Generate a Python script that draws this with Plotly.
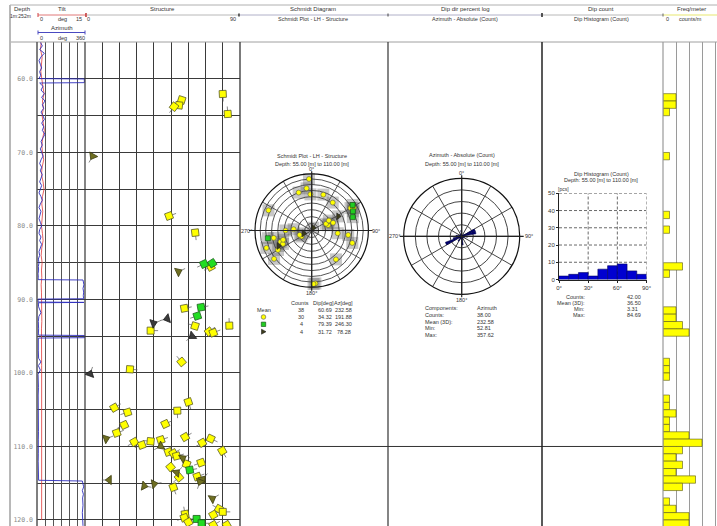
import numpy as np
import plotly.graph_objects as go

W, H = 717, 526
SANS = "Liberation Sans"
MONO = "DejaVu Sans Mono"

# ---------------- log data ----------------
depth_top, depth_bottom = 54.97, 120.82      # depth interval of the tracks [m]
stat_top, stat_bottom = 55.0, 110.0          # statistics window [m]

tilt_depth = [55, 56, 57, 58, 59, 60, 61, 62, 63, 64, 65, 66, 67, 68, 69, 70, 71, 72, 73, 74,
              75, 76, 77, 78, 79, 80, 81, 82, 83, 84, 85, 86, 87, 88, 89, 90, 91, 92, 93, 94,
              95, 96, 97, 98, 99, 100, 101, 102, 103, 104, 105, 106, 107, 108, 109, 110, 111,
              112, 113, 114, 115, 116, 117, 118, 119, 120]
tilt_deg = [1.3, 1.1, 1.6, 1.4, 1.2,
            1.5, 1.8, 2.2, 1.7, 2.0, 1.6, 1.9, 2.3, 1.8, 1.5,
            1.7, 2.1, 1.6, 1.4, 1.9, 2.2, 1.7, 1.5, 1.8, 1.6,
            1.4, 1.7, 1.9, 1.5, 1.3, 1.6, 1.4, 1.5, 1.3, 1.4,
            1.45, 1.4, 1.45, 1.5, 1.4, 1.45, 1.45, 1.5, 1.4, 1.45,
            1.45, 1.45, 1.4, 1.45, 1.45, 1.5, 1.45, 1.45, 1.4, 1.45,
            1.45, 1.45, 1.45, 1.5, 1.45, 1.45, 1.45, 1.4, 1.45, 1.45, 1.45]

azi_depth = [55.0, 55.5, 56.0, 56.5, 57.0, 57.5, 58.0, 58.5, 59.0, 59.5,
             59.95, 60.0, 60.5, 60.55,
             61.0, 61.5, 62.0, 62.5, 63.0, 63.5, 64.0, 64.5, 65.0, 65.5, 66.0, 66.5, 67.0, 67.5,
             68.0, 68.5, 69.0, 69.5, 70.0, 70.5, 71.0, 71.5, 72.0, 72.5, 73.0, 73.5, 74.0, 74.5,
             75.0, 75.5, 76.0, 76.5, 77.0, 77.5, 78.0, 78.5, 79.0, 79.5, 80.0, 80.5, 81.0, 81.5,
             82.0, 82.5, 83.0, 83.5, 84.0, 84.5, 85.0, 85.5, 86.0, 86.5, 87.0,
             87.3, 87.35,
             88.0, 88.5, 89.0, 89.5, 89.9, 89.95,
             90.35, 90.4, 90.45,
             91.0, 91.8, 92.3, 93.0, 94.0,
             94.85, 94.9, 95.2, 95.25,
             96.0, 97.0, 98.0, 98.5, 99.0, 99.6, 100.2,
             101.0, 102.0, 103.0, 104.0, 105.0, 106.0, 107.0, 108.0, 109.0, 110.0, 111.0, 112.0,
             113.0, 114.0,
             114.6, 114.7,
             115.0, 115.5, 116.0, 116.5, 117.0,
             118.0, 119.0, 120.0, 120.8]
azi_deg = [25, 40, 20, 55, 30, 15, 25, 35, 20, 28,
           15, 355, 355, 20,
           45, 30, 55, 35, 60, 40, 50, 30, 45, 55, 35, 50, 40, 60,
           45, 30, 40, 25, 35, 45, 30, 20, 35, 25, 40, 30, 20, 35,
           25, 15, 30, 40, 25, 15, 30, 20, 15, 25, 35, 20, 15, 30,
           20, 35, 25, 15, 20, 10, 15, 10, 12, 8, 10,
           8, 345,
           352, 345, 350, 347, 350, 8,
           8, 352, 10,
           12, 30, 14, 10, 12,
           10, 355, 355, 10,
           8, 10, 12, 30, 10, 25, 8,
           10, 11, 9, 10, 12, 10, 9, 11, 10, 12, 10, 9,
           11, 10,
           12, 340,
           345, 350, 340, 348, 342,
           345, 340, 343, 345]

# structures: depth [m], dip [deg], dip direction [deg], class
# Y = fracture, G = open joint, T = foliation, D = other
struct_depth = [62.04, 62.86, 63.58, 63.77, 64.76, 70.48, 78.64, 80.91, 85.07, 85.17,
                85.54, 86.22, 91.06, 91.20, 92.24, 92.61, 93.24, 93.56, 93.61, 94.24,
                94.38, 94.52, 94.97, 98.50, 99.50, 100.14, 103.95, 104.72, 105.13, 105.35,
                106.94, 107.07, 108.16, 108.71, 108.94, 108.94, 109.10, 109.30, 109.39, 109.50,
                109.80, 109.95, 110.60, 110.75, 110.93, 111.30, 111.60, 112.20, 112.40, 112.80,
                113.20, 113.56, 114.10, 114.20, 114.46, 114.56, 114.79, 115.10, 115.37, 115.55,
                117.10, 118.50, 118.90, 119.20, 119.30, 119.70, 119.86, 120.30, 120.45, 120.70,
                120.70]
struct_dip = [80.0, 56.1, 54.6, 51.7, 82.9, 4.5, 48.8, 64.0, 73.9, 69.1,
              73.0, 54.2, 67.4, 57.7, 65.2, 47.8, 39.7, 83.8, 63.9, 38.1,
              72.0, 74.5, 62.3, 56.1, 26.1, 2.9, 60.0, 17.0, 53.6, 24.7,
              46.6, 22.8, 18.4, 58.1, 73.0, 12.2, 44.0, 38.1, 28.6, 68.0,
              33.0, 44.1, 79.7, 48.4, 51.3, 53.2, 56.7, 67.4, 59.0, 49.7,
              60.8, 53.2, 65.2, 54.6, 68.3, 14.1, 66.8, 40.1, 34.3, 51.3,
              73.9, 77.8, 80.0, 58.1, 74.5, 57.7, 64.8, 60.0, 67.7, 74.5,
              82.3]
struct_azi = [177, 198, 277, 217, 356, 210, 70, 173, 238, 245,
              242, 65, 80, 79, 252, 255, 70, 358, 287, 90,
              53, 69, 232, 320, 94, 20, 161, 60, 178, 252,
              65, 245, 70, 60, 115, 70, 72, 276, 240, 240,
              250, 242, 150, 70, 60, 75, 60, 250, 20, 140,
              80, 45, 70, 230, 40, 270, 200, 80, 100, 160,
              60, 300, 90, 350, 60, 250, 270, 60, 90, 60,
              240]
struct_type = ["Y", "Y", "Y", "Y", "Y", "T", "Y", "Y", "G", "G",
               "Y", "T", "G", "Y", "G", "D", "D", "Y", "Y", "Y",
               "Y", "Y", "D", "Y", "Y", "D", "Y", "Y", "Y", "Y",
               "Y", "Y", "Y", "Y", "Y", "T", "Y", "Y", "Y", "Y",
               "Y", "T", "Y", "Y", "Y", "Y", "T", "Y", "Y", "Y",
               "G", "T", "Y", "Y", "T", "T", "T", "T", "T", "Y",
               "T", "Y", "Y", "Y", "Y", "Y", "G", "Y", "G", "Y",
               "Y"]

# dip histogram (10 degree classes)
dip_class_start = [0, 10, 20, 30, 40, 50, 60, 70, 80]
dip_class_count = [2, 3, 4, 2, 6, 8, 9, 5, 3]
dip_stat_names = ["Counts:", "Mean (3D):", "Min:", "Max:"]
dip_stat_values = ["42.00", "36.50", "3.31", "84.69"]

azi_stat_names = ["Components:", "Counts:", "Mean (3D):", "Min:", "Max:"]
azi_stat_values = ["Azimuth", "38.00", "232.58", "52.81", "357.62"]

schmidt_head = ["Counts", "Dip[deg]", "Az[deg]"]
schmidt_counts = ["38", "30", "4", "4"]
schmidt_dips = ["60.69", "34.32", "79.39", "31.72"]
schmidt_azis = ["232.58", "191.88", "246.30", "78.28"]

depth_ticks = [60, 70, 80, 90, 100, 110, 120]

# ---------------- helpers ----------------
def X(p):
    return p / W


def Y(p):
    return 1 - p / H


PX_PER_M = 7.35                 # vertical track scale
STRUCT_PX_PER_DEG = 155 / 90.0  # structure track horizontal scale

shapes = []
annotations = []


def line(x0, y0, x1, y1, color, width=1.0, dash="solid"):
    shapes.append(dict(type="line", xref="paper", yref="paper", x0=X(x0), y0=Y(y0), x1=X(x1), y1=Y(y1),
                       line=dict(color=color, width=width, dash=dash)))


def label(text, x, y, size=6, color="#333", anchor="center", family=SANS):
    annotations.append(dict(text=text, x=X(x), y=Y(y), xref="paper", yref="paper", showarrow=False,
                            xanchor=anchor, yanchor="middle", font=dict(family=family, size=size, color=color)))


style = {
    "Y": dict(symbol="square", color="#ffff00", line="#5a5a2a", size=7),
    "G": dict(symbol="square", color="#22dd22", line="#1d5d1d", size=7),
    "T": dict(symbol="triangle-up", color="#6f6f22", line="#3c3c10", size=8),
    "D": dict(symbol="triangle-up", color="#3b3b3b", line="#1a1a1a", size=8),
}

fig = go.Figure()

# ---------------- tilt / azimuth track ----------------
fig.add_trace(go.Scatter(x=tilt_deg, y=tilt_depth, mode="lines", xaxis="x", yaxis="y",
                         line=dict(color="#e03a3a", width=0.8), hoverinfo="skip"))
fig.add_trace(go.Scatter(x=azi_deg, y=azi_depth, mode="lines", xaxis="x2", yaxis="y",
                         line=dict(color="#2e2ebd", width=0.9), hoverinfo="skip"))

# ---------------- structure tadpoles ----------------
sd = np.array(struct_depth)
sdip = np.array(struct_dip)
saz = np.array(struct_azi, dtype=float)
stype = np.array(struct_type)

tail_px = 7.5
tx, ty = [], []
for d, dp, a in zip(sd, sdip, saz):
    ex = dp + tail_px * np.sin(np.radians(a)) / STRUCT_PX_PER_DEG
    ey = d - tail_px * np.cos(np.radians(a)) / PX_PER_M
    tx += [dp, ex, None]
    ty += [d, ey, None]
fig.add_trace(go.Scatter(x=tx, y=ty, mode="lines", xaxis="x3", yaxis="y",
                         line=dict(color="#555", width=0.7), hoverinfo="skip"))

for t in ["Y", "G", "T", "D"]:
    m = stype == t
    s = style[t]
    ang = (saz[m] % 90) if s["symbol"] == "square" else saz[m]
    fig.add_trace(go.Scatter(x=sdip[m], y=sd[m], mode="markers", xaxis="x3", yaxis="y",
                             marker=dict(symbol=s["symbol"], size=s["size"], color=s["color"], angle=ang,
                                         line=dict(color=s["line"], width=0.8)), hoverinfo="skip"))

# ---------------- frequency per meter ----------------
edges = np.arange(55, 122, 1)
freq, _ = np.histogram(sd, bins=edges)
nz = freq > 0
fig.add_trace(go.Bar(x=freq[nz], y=(edges[:-1] + 0.5)[nz], orientation="h", width=1.0,
                     xaxis="x4", yaxis="y2",
                     marker=dict(color="#ffff00", line=dict(color="#55551a", width=0.6)), hoverinfo="skip"))

# ---------------- Schmidt net (lower hemisphere poles) ----------------
win = (sd >= stat_top) & (sd <= stat_bottom) & (stype != "D")
pole_trend = (saz[win] + 180) % 360
pole_r = np.sqrt(2) * np.sin(np.radians(sdip[win]) / 2)
fig.add_trace(go.Scatterpolar(r=pole_r, theta=pole_trend, mode="markers", subplot="polar",
                              marker=dict(symbol="square", size=12, color="rgba(70,70,70,0.30)"),
                              hoverinfo="skip"))
schmidt_style = {"Y": ("circle", "#ffff00", "#555", 5),
                 "G": ("square", "#22cc22", "#114411", 5),
                 "T": ("triangle-right", "#3d3d1c", "#222", 6)}
wt = stype[win]
for t, (sym, col, lc, sz) in schmidt_style.items():
    m = wt == t
    fig.add_trace(go.Scatterpolar(r=pole_r[m], theta=pole_trend[m], mode="markers", subplot="polar",
                                  marker=dict(symbol=sym, size=sz, color=col, line=dict(color=lc, width=0.6)),
                                  hoverinfo="skip"))
ring_r = [float(np.sqrt(2) * np.sin(np.radians(d) / 2)) for d in range(10, 90, 10)]

# ---------------- azimuth rose ----------------
rose_edges = np.arange(0, 370, 10)
rose_count, _ = np.histogram(saz[win], bins=rose_edges)
fig.add_trace(go.Barpolar(r=rose_count, theta=rose_edges[:-1] + 5, width=10, subplot="polar2",
                          marker=dict(color="#00006e", line=dict(color="#000040", width=0.5)),
                          hoverinfo="skip"))

# ---------------- dip histogram ----------------
fig.add_trace(go.Bar(x=[c + 5 for c in dip_class_start], y=dip_class_count, width=10,
                     xaxis="x5", yaxis="y5",
                     marker=dict(color="#0000d0", line=dict(color="#000060", width=0.6)), hoverinfo="skip"))
for v in [10, 20, 30, 40, 50]:
    shapes.append(dict(type="line", xref="x5", yref="y5", x0=0, x1=90, y0=v, y1=v, layer="below",
                       line=dict(color="#444", width=0.8, dash="3px,2px")))
for v in [30, 60, 90]:
    shapes.append(dict(type="line", xref="x5", yref="y5", x0=v, x1=v, y0=0, y1=50, layer="below",
                       line=dict(color="#444", width=0.8, dash="3px,2px")))

# 110 m line: bottom of the statistics window
shapes.append(dict(type="line", xref="paper", yref="y", x0=X(240), x1=X(663), y0=stat_bottom, y1=stat_bottom,
                   line=dict(color="#333", width=1)))

# ---------------- frame and track borders ----------------
line(10, 5, 717, 5, "#b0b0b0", 1)
line(10, 42, 717, 42, "#a0a0a0", 1)
line(10, 5, 10, 526, "#b8b8b8", 2)
line(37, 42, 37, 526, "#555", 1.5)
for xb, c, w in [(85, "#333", 1.2), (240, "#333", 1.3), (388, "#333", 1.2), (542, "#222", 1.5), (663, "#999", 1.2)]:
    line(xb, 42, xb, 526, c, w)

# ---------------- header ----------------
label("Depth", 22, 8.5)
label("1m:252m", 20, 15.5, size=5)
label("Tilt", 62, 8.5)
line(38, 15, 86, 15, "#e07878", 1)
line(38, 13, 38, 17, "#d04040", 1)
line(86, 13, 86, 17, "#c03030", 1.5)
label("0", 41, 19.5, size=5.5); label("deg", 62, 19.5, size=5.5); label("15", 78.5, 19.5, size=5.5)
label("0", 88.5, 19.5, size=5.5)
label("Azimuth", 62, 28)
line(38, 32.5, 85, 32.5, "#4a4ac0", 1)
line(38, 30.5, 38, 34.5, "#4a4ac0", 1)
line(85, 30.5, 85, 34.5, "#4a4ac0", 1)
label("0", 41, 38.5, size=5.5); label("deg", 62, 38.5, size=5.5); label("360", 80.5, 38.5, size=5.5)

label("Structure", 162, 8.5)
line(87, 15, 239, 15, "#b8b8b8", 1)
line(239, 13.5, 239, 16.5, "#333", 1.5)
label("90", 233, 19.5, size=5.5)

label("Schmidt Diagram", 313, 8.5)
line(240, 15, 388, 15, "#b0b0c8", 1)
label("Schmidt Plot - LH - Structure", 313, 19.5, size=5.5)

label("Dip dir percent log", 465, 8.5)
line(388, 15, 542, 15, "#b0b0c8", 1)
line(388, 13.5, 388, 16.5, "#444", 1)
label("Azimuth - Absolute (Count)", 465, 19.5, size=5.5)

label("Dip count", 601, 8.5)
line(542, 15, 663, 15, "#b8b8b8", 1)
line(542, 13, 542, 17, "#222", 1.5)
label("Dip Histogram (Count)", 601, 19.5, size=5.5)

label("Freq/meter", 691, 8.5)
line(663, 15, 717, 15, "#e8e870", 1.2)
line(663, 13.5, 663, 16.5, "#666", 1)
label("0", 667, 19.5, size=5.5)
label("counts/m", 690, 19.5, size=5.5)

# ---------------- Schmidt decorations ----------------
scx, scy, sr = 311.7, 230.5, 56.7
label("Schmidt Plot - LH - Structure", scx, 156, size=5.5)
label("Depth: 55.00 [m] to 110.00 [m]", scx, 164, size=5.5)
line(scx - sr - 6, scy, scx + sr + 4, scy, "#222", 1.2)
line(scx, scy - sr - 2.5, scx, scy + sr + 3.5, "#222", 1.2)
label("0°", scx, 168.5, size=5.5)
label("180°", scx, 292.5, size=5.5)
label("270°", 246, scy, size=5.5)
label("90°", 376, scy, size=5.5)

head_x = [300, 323.5, 343]
col_x = [301, 325, 343.5]
for hx, ht in zip(head_x, schmidt_head):
    label(ht, hx, 303.3, size=5.5)
row_y = [309.5, 317, 324.3, 331.7]
label("Mean", 263.5, row_y[0], size=5.5)
for ry, c, dv, av in zip(row_y, schmidt_counts, schmidt_dips, schmidt_azis):
    label(c, col_x[0], ry, size=5.5)
    label(dv, col_x[1], ry, size=5.5)
    label(av, col_x[2], ry, size=5.5)
shapes.append(dict(type="circle", xref="paper", yref="paper", x0=X(261.2), x1=X(265.8), y0=Y(319.3), y1=Y(314.7),
                   fillcolor="#ffff00", line=dict(color="#555", width=0.6)))
shapes.append(dict(type="rect", xref="paper", yref="paper", x0=X(261.3), x1=X(265.7), y0=Y(326.5), y1=Y(322.1),
                   fillcolor="#22cc22", line=dict(color="#114411", width=0.6)))
shapes.append(dict(type="path", xref="paper", yref="paper",
                   path=f"M {X(261.5)} {Y(329.2)} L {X(266)} {Y(331.7)} L {X(261.5)} {Y(334.2)} Z",
                   fillcolor="#3d3d1c", line=dict(color="#222", width=0.6)))

# ---------------- rose decorations ----------------
rcx, rcy, rr = 461.7, 236.3, 58.0
label("Azimuth - Absolute (Count)", rcx, 155, size=5.5)
label("Depth: 55.00 [m] to 110.00 [m]", rcx, 164, size=5.5)
line(rcx - rr - 4, rcy, rcx + rr + 4, rcy, "#222", 1.2)
line(rcx, rcy - rr - 3, rcx, rcy + rr + 3, "#222", 1.2)
label("0°", rcx, 172.5, size=5.5)
label("180°", rcx, 299.5, size=5.5)
label("270°", 394.5, rcy, size=5.5)
label("90°", 528.5, rcy, size=5.5)
for i, (n, v) in enumerate(zip(azi_stat_names, azi_stat_values)):
    label(n, 423, 308.3 + i * 6.7, size=5.5, anchor="left")
    label(v, 475, 308.3 + i * 6.7, size=5.5, anchor="left")

# ---------------- dip histogram decorations ----------------
label("Dip Histogram (Count)", 601, 174, size=5.5)
label("Depth: 55.00 [m] to 110.00 [m]", 601, 180.5, size=5.5)
label("[pcs]", 563, 189.5, size=5)
for i, (n, v) in enumerate(zip(dip_stat_names, dip_stat_values)):
    label(n, 587, 296.7 + i * 6.1, size=5.5, anchor="right")
    label(v, 625, 296.7 + i * 6.1, size=5.5, anchor="left")

# ---------------- layout ----------------
grid_dark = "#3a3a3a"
track_dom = [0, Y(42)]
fig.update_layout(
    width=W, height=H, margin=dict(l=0, r=0, t=0, b=0),
    paper_bgcolor="white", plot_bgcolor="white", showlegend=False,
    font=dict(family=SANS, size=6, color="#333"),
    xaxis=dict(domain=[X(37), X(85)], range=[0, 15], tickvals=[2.5, 5, 7.5, 10, 12.5],
               showticklabels=False, ticks="", showgrid=True, gridcolor="#555", gridwidth=0.8,
               zeroline=False, anchor="y", fixedrange=True),
    xaxis2=dict(overlaying="x", range=[0, 360], visible=False, anchor="y"),
    xaxis3=dict(domain=[X(85), X(240)], range=[0, 90], tickvals=list(range(10, 90, 10)),
                showticklabels=False, ticks="", showgrid=True, gridcolor=grid_dark, gridwidth=1,
                zeroline=False, anchor="y"),
    xaxis4=dict(domain=[X(663), 1], range=[0, (717 - 663) / 6.5], tickvals=[2, 4, 6, 8],
                showticklabels=False, ticks="", showgrid=True, gridcolor="#9a9a9a", gridwidth=1,
                zeroline=False, anchor="y2"),
    yaxis=dict(domain=track_dom, range=[depth_bottom, depth_top], tickvals=depth_ticks,
               ticktext=[f"{v:.1f}" for v in depth_ticks], ticks="", ticklabelstandoff=3,
               tickfont=dict(family=MONO, size=6.5, color="#8a8a8a"),
               showgrid=True, gridcolor=grid_dark, gridwidth=1, zeroline=False, anchor="x",
               automargin=False,
               minor=dict(dtick=5, tick0=55, showgrid=True, gridcolor=grid_dark, gridwidth=1)),
    yaxis2=dict(domain=track_dom, matches="y", anchor="x4", visible=False, showgrid=False),
    xaxis5=dict(domain=[X(559), X(646.5)], range=[0, 90], tickvals=[0, 30, 60, 90],
                ticktext=["0°", "30°", "60°", "90°"], ticks="outside", ticklen=2, tickcolor="#222",
                showline=True, linecolor="#222", linewidth=1, showgrid=False, zeroline=False,
                tickfont=dict(size=6), anchor="y5", automargin=False),
    yaxis5=dict(domain=[Y(279.5), Y(193.3)], range=[0, 50], tickvals=[0, 10, 20, 30, 40, 50],
                ticks="outside", ticklen=2, tickcolor="#222", showline=True, linecolor="#222",
                linewidth=1, showgrid=False, zeroline=False, tickfont=dict(size=6), anchor="x5",
                automargin=False),
    polar=dict(domain=dict(x=[X(scx - sr), X(scx + sr)], y=[Y(scy + sr), Y(scy - sr)]), bgcolor="white",
               radialaxis=dict(range=[0, 1], tickvals=ring_r, showticklabels=False, ticks="",
                               showline=False, gridcolor="#555", gridwidth=0.6),
               angularaxis=dict(rotation=90, direction="clockwise", tickvals=list(range(0, 360, 30)),
                                showticklabels=False, ticks="", gridcolor="#555", gridwidth=0.6,
                                linecolor="#111", linewidth=1.2)),
    polar2=dict(domain=dict(x=[X(rcx - rr), X(rcx + rr)], y=[Y(rcy + rr), Y(rcy - rr)]), bgcolor="white",
                radialaxis=dict(range=[0, 20], tickvals=[4, 8, 12, 16], showticklabels=False, ticks="",
                                showline=False, gridcolor="#444", gridwidth=0.7),
                angularaxis=dict(rotation=90, direction="clockwise", tickvals=list(range(0, 360, 30)),
                                 showticklabels=False, ticks="", gridcolor="#444", gridwidth=0.7,
                                 linecolor="#111", linewidth=1.2)),
    shapes=shapes,
    annotations=annotations,
)

fig.write_html("out.html")
